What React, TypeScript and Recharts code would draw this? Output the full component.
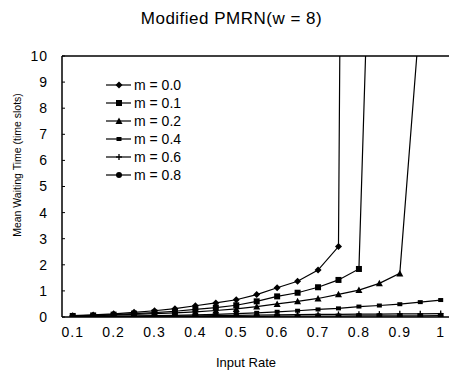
import { LineChart, Line, XAxis, YAxis, ReferenceLine, Legend } from 'recharts';

const rates = [0.1, 0.15, 0.2, 0.25, 0.3, 0.35, 0.4, 0.45, 0.5, 0.55, 0.6, 0.65, 0.7, 0.75, 0.8, 0.85, 0.9, 0.95, 1.0];
const xTicks = [0.1, 0.2, 0.3, 0.4, 0.5, 0.6, 0.7, 0.8, 0.9, 1];
const yTicks = [0, 1, 2, 3, 4, 5, 6, 7, 8, 9, 10];

// values above 10 run off the top of the plot (the queue blows up)
const m00 = [0.05, 0.08, 0.12, 0.18, 0.24, 0.32, 0.43, 0.54, 0.66, 0.86, 1.12, 1.37, 1.8, 2.7, 117];
const m01 = [0.04, 0.06, 0.09, 0.13, 0.17, 0.22, 0.29, 0.36, 0.45, 0.6, 0.79, 0.93, 1.14, 1.42, 1.84, 27];
const m02 = [0.03, 0.05, 0.07, 0.1, 0.13, 0.16, 0.2, 0.25, 0.31, 0.4, 0.5, 0.6, 0.71, 0.87, 1.03, 1.29, 1.67, 11.7];
const m04 = [0.02, 0.02, 0.03, 0.04, 0.05, 0.06, 0.08, 0.1, 0.13, 0.16, 0.2, 0.24, 0.29, 0.33, 0.4, 0.44, 0.49, 0.57, 0.65];
const m06 = [0.01, 0.01, 0.02, 0.02, 0.03, 0.03, 0.04, 0.05, 0.06, 0.07, 0.08, 0.09, 0.1, 0.1, 0.11, 0.11, 0.12, 0.12, 0.13];
const m08 = [0, 0, 0.01, 0.01, 0.01, 0.01, 0.02, 0.02, 0.02, 0.02, 0.03, 0.03, 0.03, 0.03, 0.04, 0.04, 0.04, 0.04, 0.05];

const seriesNames = ['m = 0.0', 'm = 0.1', 'm = 0.2', 'm = 0.4', 'm = 0.6', 'm = 0.8'];
const seriesValues = [m00, m01, m02, m04, m06, m08];
const markers = ['diamond', 'square', 'triangle', 'cross', 'plus', 'circle'];

const data = rates.map((r, i) => {
  const row: Record<string, number | null> = { rate: r };
  seriesValues.forEach((vals, s) => {
    row['s' + s] = i < vals.length ? vals[i] : null;
  });
  return row;
});

const font = '"Liberation Sans", Arial, sans-serif';

function Marker({ kind, cx, cy }: { kind: string; cx: number; cy: number }) {
  switch (kind) {
    case 'diamond':
      return <path d={`M${cx},${cy - 3.5}L${cx + 3.5},${cy}L${cx},${cy + 3.5}L${cx - 3.5},${cy}Z`} fill="#000" />;
    case 'square':
      return <rect x={cx - 3} y={cy - 3} width={6} height={6} fill="#000" />;
    case 'triangle':
      return <path d={`M${cx},${cy - 3.5}L${cx + 3.5},${cy + 3}L${cx - 3.5},${cy + 3}Z`} fill="#000" />;
    case 'cross':
      return <rect x={cx - 2.5} y={cy - 2} width={5} height={4} fill="#000" />;
    case 'plus':
      return (
        <g stroke="#000" strokeWidth={1.3}>
          <line x1={cx - 3} y1={cy} x2={cx + 3} y2={cy} />
          <line x1={cx} y1={cy - 3} x2={cx} y2={cy + 3} />
        </g>
      );
    default:
      return <circle cx={cx} cy={cy} r={3} fill="#000" />;
  }
}

function dotFor(kind: string) {
  return (props: any) => {
    const { cx, cy, key, value } = props;
    if (cx == null || cy == null || value == null) return <g key={key} />;
    return (
      <g key={key}>
        <Marker kind={kind} cx={cx} cy={cy} />
      </g>
    );
  };
}

function LegendBox() {
  return (
    <div style={{ fontFamily: font, fontSize: 14, color: '#000' }}>
      {seriesNames.map((name, i) => (
        <div key={name} style={{ display: 'flex', alignItems: 'center', height: 18 }}>
          <svg width={26} height={10}>
            <line x1={0} y1={5} x2={25} y2={5} stroke="#000" strokeWidth={1.2} />
            <Marker kind={markers[i]} cx={13} cy={5} />
          </svg>
          <span style={{ marginLeft: 2 }}>{name}</span>
        </div>
      ))}
    </div>
  );
}

export default function App() {
  return (
    <div style={{ position: 'absolute', left: 0, top: 0, width: 449, height: 376, background: '#fff', fontFamily: font }}>
      <div style={{ position: 'absolute', left: 0, width: 449, top: 9, textAlign: 'center', fontSize: 17, letterSpacing: 0.5, paddingLeft: 14, boxSizing: 'border-box' }}>
        Modified PMRN(w = 8)
      </div>
      <LineChart width={449} height={376} data={data} margin={{ top: 56, right: 0, bottom: 0, left: 12 }}>
        <XAxis
          dataKey="rate"
          type="number"
          domain={[0.0738, 1.0203]}
          ticks={xTicks}
          allowDataOverflow
          height={59}
          axisLine={{ stroke: '#000', strokeWidth: 1.5 }}
          tickLine={false}
          tickSize={0}
          tickMargin={10}
          tick={{ fill: '#000', fontSize: 14, fontFamily: font, letterSpacing: 1 }}
        />
        <YAxis
          type="number"
          domain={[0, 10]}
          ticks={yTicks}
          allowDataOverflow
          width={50}
          axisLine={{ stroke: '#000', strokeWidth: 1.5 }}
          tickLine={{ stroke: '#000' }}
          tickSize={-3}
          tickMargin={17}
          tick={{ fill: '#000', fontSize: 14, fontFamily: font, letterSpacing: 1 }}
        />
        <ReferenceLine y={10} stroke="#000" strokeWidth={1.5} />
        <Legend
          layout="vertical"
          align="center"
          verticalAlign="middle"
          wrapperStyle={{ position: 'absolute', left: 106, top: 76, width: 'auto', height: 'auto' }}
          content={() => <LegendBox />}
        />
        {seriesNames.map((name, i) => (
          <Line
            key={name}
            name={name}
            dataKey={'s' + i}
            type="linear"
            stroke="#000"
            strokeWidth={1.2}
            dot={dotFor(markers[i])}
            activeDot={false}
            connectNulls={false}
            isAnimationActive={false}
          />
        ))}
      </LineChart>
      <div style={{ position: 'absolute', left: 246, top: 362, transform: 'translate(-50%, -50%)', fontSize: 13, whiteSpace: 'nowrap' }}>
        Input Rate
      </div>
      <div style={{ position: 'absolute', left: 17, top: 165, transform: 'translate(-50%, -50%) rotate(-90deg)', fontSize: 10.5, whiteSpace: 'nowrap' }}>
        Mean Waiting Time (time slots)
      </div>
    </div>
  );
}
